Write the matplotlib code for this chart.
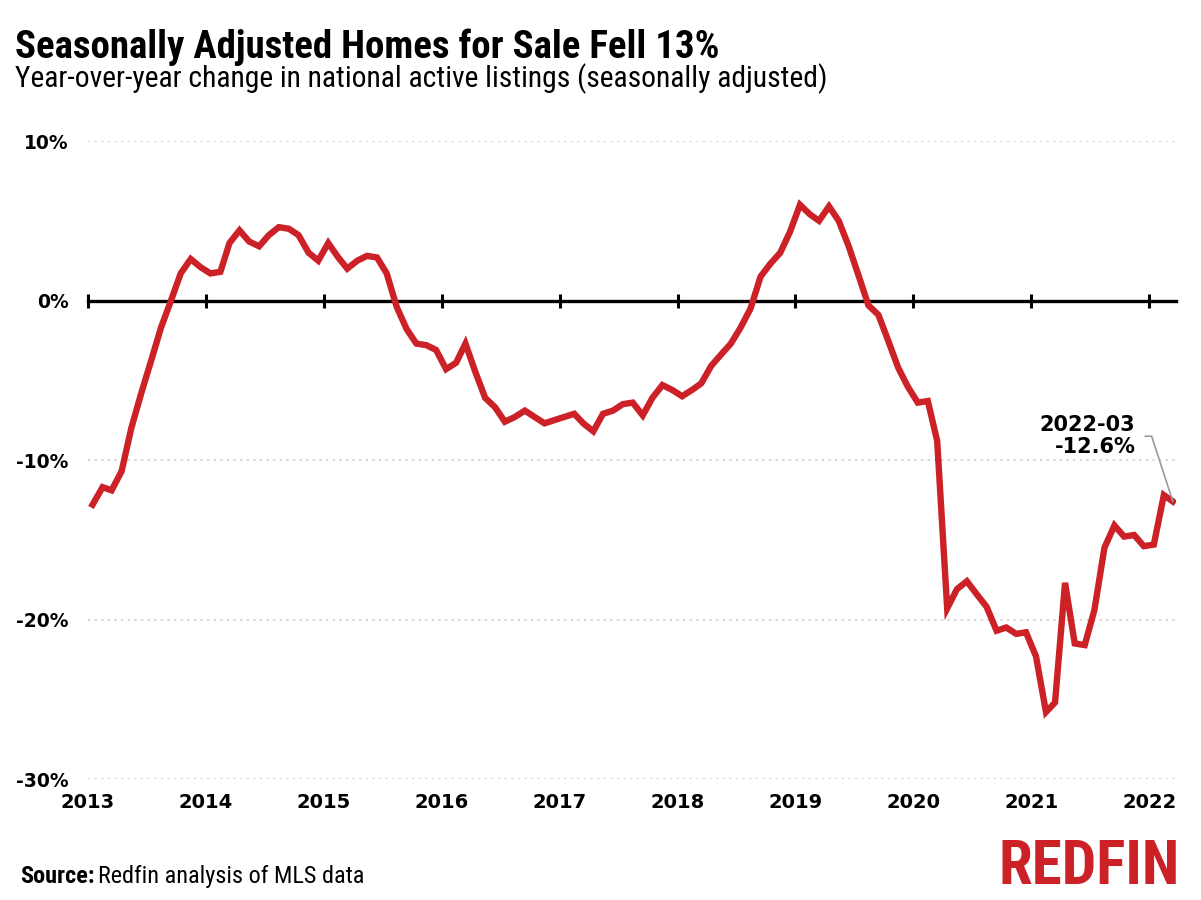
import numpy as np
import pandas as pd
import matplotlib
matplotlib.use("Agg")
import matplotlib.pyplot as plt
import matplotlib.dates as mdates
import matplotlib.transforms as mtrans

# ---------- datos ----------
start_month = "2013-01-01"
yoy_change = [
    -12.8, -11.7, -11.9, -10.7, -8.0, -5.8, -3.8, -1.7, 0.0, 1.7, 2.6, 2.1,      # 2013
    1.7, 1.8, 3.6, 4.4, 3.7, 3.4, 4.1, 4.6, 4.5, 4.1, 3.0, 2.5,                  # 2014
    3.6, 2.7, 2.0, 2.5, 2.8, 2.7, 1.7, -0.4, -1.8, -2.7, -2.8, -3.1,             # 2015
    -4.3, -3.9, -2.7, -4.5, -6.1, -6.7, -7.6, -7.3, -6.9, -7.3, -7.7, -7.5,      # 2016
    -7.3, -7.1, -7.7, -8.2, -7.1, -6.9, -6.5, -6.4, -7.2, -6.1, -5.3, -5.6,      # 2017
    -6.0, -5.6, -5.2, -4.1, -3.4, -2.7, -1.7, -0.5, 1.5, 2.3, 3.0, 4.3,          # 2018
    6.0, 5.4, 5.0, 5.9, 5.0, 3.4, 1.6, -0.3, -0.9, -2.5, -4.2, -5.4,             # 2019
    -6.4, -6.3, -8.8, -19.3, -18.1, -17.6, -18.4, -19.2, -20.7, -20.5, -20.9, -20.8,  # 2020
    -22.3, -25.8, -25.2, -17.7, -21.5, -21.6, -19.4, -15.5, -14.1, -14.8, -14.7, -15.4,  # 2021
    -15.3, -12.2, -12.6,                                                          # 2022
]
year_ticks = list(range(2013, 2023))
y_ticks = [10, 0, -10, -20, -30]
y_tick_labels = ["10%", "0%", "-10%", "-20%", "-30%"]

# fechas a mitad de mes
fechas = pd.date_range(start_month, periods=len(yoy_change), freq="MS") + pd.Timedelta(days=14)
tick_pos = mdates.date2num([pd.Timestamp(f"{y}-01-01") for y in year_ticks])

rojo = "#CC2127"
fuente_cond = ["Roboto Condensed", "Liberation Sans Narrow", "Roboto"]
fuente_num = "DejaVu Sans"

fig = plt.figure(figsize=(12.01, 9), dpi=100)
ax = fig.add_axes([0.0733, 0.1344, 0.9057, 0.7089])

ax.plot(fechas, yoy_change, color=rojo, linewidth=4.6, solid_joinstyle="miter", zorder=3)

ax.set_ylim(-30, 10)
ax.set_xlim(mdates.date2num(pd.Timestamp("2013-01-01")), mdates.date2num(pd.Timestamp("2022-03-24")))

# rejilla punteada (sin la linea de 0)
for v in y_ticks:
    if v != 0:
        ax.axhline(v, color="#d4d4d4", linewidth=1.4, linestyle=(0, (1.2, 2.2)), zorder=1)

for s in ["top", "right", "left"]:
    ax.spines[s].set_visible(False)
ax.spines["bottom"].set_position(("data", 0))
ax.spines["bottom"].set_linewidth(2.4)
ax.spines["bottom"].set_zorder(2)

ax.set_xticks(tick_pos)
ax.tick_params(axis="x", direction="inout", length=10, width=2.2, labelbottom=False)

ax.set_yticks(y_ticks)
ax.set_yticklabels(y_tick_labels, fontfamily=fuente_num, fontweight="bold", fontsize=13.5)
ax.tick_params(axis="y", length=0, pad=14)

# etiquetas de años abajo
secx = ax.secondary_xaxis("bottom")
secx.set_xticks(tick_pos)
secx.xaxis.set_major_formatter(mdates.DateFormatter("%Y"))
secx.tick_params(length=0, pad=10)
secx.spines["bottom"].set_visible(False)
for lab in secx.get_xticklabels():
    lab.set_fontfamily(fuente_num)
    lab.set_fontweight("bold")
    lab.set_fontsize(14)

# anotación del último punto
ax.annotate(f"{fechas[-1].strftime('%Y-%m')}\n{yoy_change[-1]}%",
            xy=(fechas[-1], yoy_change[-1]),
            xytext=(-27, 47), textcoords="offset points",
            ha="right", va="center", multialignment="right",
            fontfamily=fuente_num, fontweight="bold", fontsize=15, linespacing=1.1,
            arrowprops=dict(arrowstyle="-", color="#9a9a9a", lw=1.2, shrinkA=5, shrinkB=0,
                            relpos=(1, 0.5),
                            connectionstyle="angle,angleA=0,angleB=108,rad=0"))

# titulos
fig.text(0.0125, 0.935, "Seasonally Adjusted Homes for Sale Fell 13%",
         fontfamily=fuente_cond, fontweight="bold", fontsize=28, va="baseline")
fig.text(0.0125, 0.903, "Year-over-year change in national active listings (seasonally adjusted)",
         fontfamily=fuente_cond, fontsize=21.3, va="baseline")

# fuente y logo
src = fig.text(0.0167, 0.019, "Source:", fontfamily=fuente_cond, fontweight="bold",
               fontsize=17.5, va="baseline")
fig.canvas.draw()
fig.text(0, 0, "Redfin analysis of MLS data", fontfamily=fuente_cond, fontsize=17.5,
         va="baseline",
         transform=mtrans.offset_copy(
             mtrans.blended_transform_factory(mtrans.IdentityTransform(), fig.transFigure),
             fig=fig, x=src.get_window_extent().x1 + 3, y=0.019 * fig.bbox.height, units="dots"))
fig.text(0.9825, 0.018, "REDFIN", fontfamily=fuente_cond, fontweight="bold", fontsize=44,
         color=rojo, ha="right", va="baseline")

plt.savefig("out.png", dpi=100)
